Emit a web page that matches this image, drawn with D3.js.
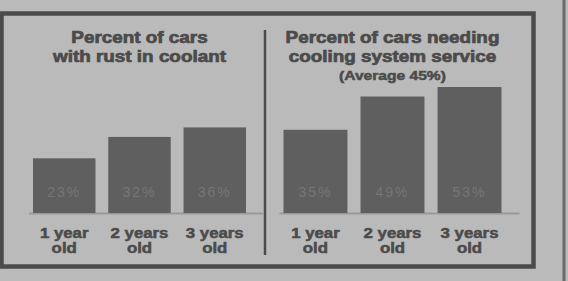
<!DOCTYPE html>
<html>
<head>
<meta charset="utf-8">
<script src="https://cdn.jsdelivr.net/npm/d3@7"></script>
<style>
  body { margin: 0; background: #bababa; }
  svg { display: block; }
  text { font-family: "Liberation Sans", Arial, sans-serif; }
</style>
</head>
<body>
<div class="chart"></div>
<script>
// categories shared by both panels
const ageLabels = [["1 year", "old"], ["2 years", "old"], ["3 years", "old"]];
// percent of cars with rust in coolant
const rustValues = [23, 32, 36];
// percent of cars needing cooling system service
const serviceValues = [35, 49, 53];
const rustTitle = ["Percent of cars", "with rust in coolant"];
const serviceTitle = ["Percent of cars needing", "cooling system service"];
const serviceNote = "(Average 45%)";

const width = 568, height = 281;
const bg = "#bababa", ink = "#4b4b4b", barColor = "#5f5f5f";

const svg = d3.select(".chart").append("svg")
    .attr("width", width)
    .attr("height", height);

svg.append("rect").attr("width", width).attr("height", height).attr("fill", bg);

// #region frame
svg.append("rect")
    .attr("x", 1.5).attr("y", 13.5)
    .attr("width", 532).attr("height", 253)
    .attr("fill", "none")
    .attr("stroke", ink)
    .attr("stroke-width", 4.5);
svg.append("line")
    .attr("x1", 265).attr("x2", 265)
    .attr("y1", 30).attr("y2", 255)
    .attr("stroke", ink).attr("stroke-width", 2.5);
svg.append("line")
    .attr("x1", 564).attr("x2", 564)
    .attr("y1", 0).attr("y2", height)
    .attr("stroke", "#6a6a6a").attr("stroke-width", 3);
// #endregion

const yScale = d3.scaleLinear()
    .domain([0, 53])
    .range([213, 87]);

// heavy, wide newspaper lettering
function heavyText(sel, size, sx) {
    return sel.append("text")
        .attr("text-anchor", "middle")
        .attr("fill", ink)
        .attr("stroke", ink)
        .attr("stroke-width", 0.7)
        .attr("font-weight", "bold")
        .attr("font-size", size)
        .attr("transform", "scale(" + sx + ",1)");
}

function drawPanel(values, x0, x1, title, note) {
    const cx = (x0 + x1) / 2;
    const xScale = d3.scaleBand()
        .domain(d3.range(values.length))
        .range([x0, x1])
        .paddingInner(0.17)
        .paddingOuter(0);

    const g = svg.append("g");

    // title
    const t = heavyText(g, 16, 1.18);
    title.forEach((line, i) => {
        t.append("tspan").attr("x", cx / 1.18).attr("y", 43 + i * 19).text(line);
    });
    if (note) {
        heavyText(g, 13, 1.2)
            .attr("stroke-width", 0.5)
            .attr("x", cx / 1.2).attr("y", 80)
            .text(note);
    }

    // baseline
    g.append("line")
        .attr("x1", x0 - 4).attr("x2", x1 + 18)
        .attr("y1", yScale(0) + 0.5).attr("y2", yScale(0) + 0.5)
        .attr("stroke", "#999").attr("stroke-width", 2);

    g.selectAll(".bar")
        .data(values)
        .enter()
        .append("rect")
        .attr("class", "bar")
        .attr("x", (d, i) => xScale(i))
        .attr("y", d => yScale(d))
        .attr("width", xScale.bandwidth())
        .attr("height", d => yScale(0) - yScale(d))
        .attr("fill", barColor);

    g.selectAll(".val")
        .data(values)
        .enter()
        .append("text")
        .attr("class", "val")
        .attr("x", (d, i) => xScale(i) + xScale.bandwidth() / 2)
        .attr("y", 197)
        .attr("text-anchor", "middle")
        .attr("font-size", 14)
        .attr("letter-spacing", 2)
        .attr("fill", "#767676")
        .text(d => d + "%");

    ageLabels.forEach((d, i) => {
        const x = xScale(i) + xScale.bandwidth() / 2;
        const lab = heavyText(g, 14, 1.2).attr("stroke-width", 0.5);
        d.forEach((line, k) => {
            lab.append("tspan")
                .attr("x", x / 1.2).attr("y", 238 + k * 15).text(line);
        });
    });
}

drawPanel(rustValues, 33, 246, rustTitle, null);
drawPanel(serviceValues, 283.5, 501.5, serviceTitle, serviceNote);
</script>
</body>
</html>
